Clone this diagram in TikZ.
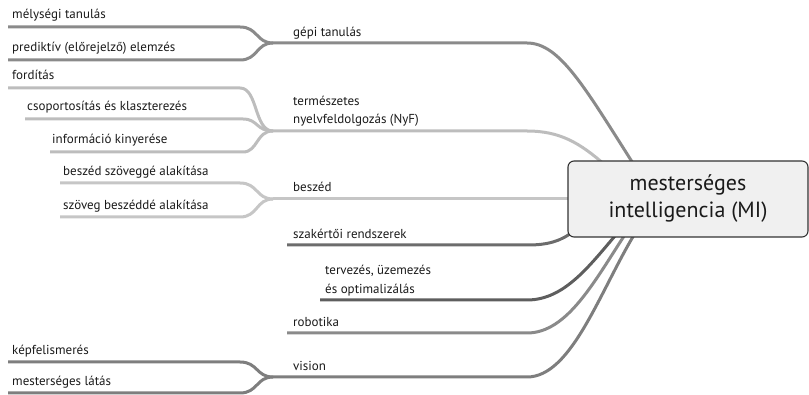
\documentclass[tikz,border=0pt]{standalone}
\usepackage{fontspec}
\setmainfont{PT Sans}
\definecolor{cGep}{HTML}{8A8A8A}
\definecolor{cNyf}{HTML}{BDBDBD}
\definecolor{cBesz}{HTML}{C6C6C6}
\definecolor{cSzak}{HTML}{6C6C6C}
\definecolor{cTerv}{HTML}{5E5E5E}
\definecolor{cRob}{HTML}{8A8A8A}
\definecolor{cVis}{HTML}{7E7E7E}
\definecolor{cBox}{HTML}{F0F0F0}
\definecolor{cTxt}{HTML}{1A1A1A}
\begin{document}
\begin{tikzpicture}[x=1pt,y=-1pt,
  lbl/.style={anchor=base west, inner sep=0pt, text=cTxt, font=\fontsize{13}{18.5}\selectfont},
  mlbl/.style={anchor=south west, inner sep=0pt, align=left, text=cTxt, font=\fontsize{13}{18.5}\selectfont},
  branch/.style={line width=3pt},
  centre/.style={draw=black!80, line width=1.1pt, fill=cBox, rounded corners=6pt,
    minimum width=240pt, minimum height=76pt, align=center, text=cTxt,
    font=\fontsize{22}{27}\selectfont}]
\useasboundingbox (0,0) rectangle (809,395);

% junctions and end points
\coordinate (jG) at (273,43);
\coordinate (jN) at (273,131);
\coordinate (jB) at (273,199);
\coordinate (jV) at (273,377);

% ---- sub branches ----
\draw[branch, cGep] (8,27) -- (240,27) .. controls (258,27) and (256,43) .. (jG);
\draw[branch, cGep] (8,60) -- (240,60) .. controls (258,60) and (256,43) .. (jG);

\draw[branch, cNyf] (8,88) -- (240,88) .. controls (258,88) and (254,131) .. (jN);
\draw[branch, cNyf] (25,119) -- (243,119) .. controls (258,119) and (256,131) .. (jN);
\draw[branch, cNyf] (50,152) -- (243,152) .. controls (258,152) and (256,131) .. (jN);

\draw[branch, cBesz] (60,183) -- (240,183) .. controls (258,183) and (256,199) .. (jB);
\draw[branch, cBesz] (60,217) -- (240,217) .. controls (258,217) and (256,199) .. (jB);

\draw[branch, cVis] (8,362) -- (240,362) .. controls (258,362) and (256,377) .. (jV);
\draw[branch, cVis] (8,393) -- (240,393) .. controls (258,393) and (256,377) .. (jV);

% ---- main branches ----
\draw[branch, cGep] (jG) -- (527,43) .. controls (560,43) and (585,88) .. (636,168);
\draw[branch, cNyf] (jN) -- (527,131) .. controls (560,131) and (580,143) .. (605,165);
\draw[branch, cBesz] (jB) -- (580,199);
\draw[branch, cSzak] (287,245) -- (528,245) .. controls (548,245) and (562,241) .. (575,230);
\draw[branch, cTerv] (320,300) -- (527,300) .. controls (565,300) and (590,265) .. (620,230);
\draw[branch, cRob] (287,333) -- (527,333) .. controls (568,333) and (595,280) .. (628,230);
\draw[branch, cVis] (jV) -- (527,377) .. controls (572,377) and (600,290) .. (637,230);

% ---- central node ----
\node[centre] (mi) at (688,199) {mesterséges\\intelligencia (MI)};

% ---- labels ----
\node[lbl] (l1) at (12,19) {mélységi tanulás};
\node[lbl] (l2) at (12,52) {prediktív (előrejelző) elemzés};
\node[lbl] (l3) at (12,80) {fordítás};
\node[lbl] (l4) at (27,111) {csoportosítás és klaszterezés};
\node[lbl] (l5) at (52,144) {információ kinyerése};
\node[lbl] (l6) at (63,176) {beszéd szöveggé alakítása};
\node[lbl] (l7) at (63,210) {szöveg beszéddé alakítása};
\node[lbl] (l8) at (12,355) {képfelismerés};
\node[lbl] (l9) at (12,386) {mesterséges látás};

\node[lbl] (gep) at (293,37) {gépi tanulás};
\node[mlbl] (nyf) at (293,127) {természetes\\nyelvfeldolgozás (NyF)};
\node[lbl] (besz) at (293,192) {beszéd};
\node[lbl] (szak) at (293,239) {szakértői rendszerek};
\node[mlbl] (terv) at (325,296) {tervezés, üzemezés\\és optimalizálás};
\node[lbl] (rob) at (293,327) {robotika};
\node[lbl] (vis) at (293,371) {vision};
\end{tikzpicture}
\end{document}
